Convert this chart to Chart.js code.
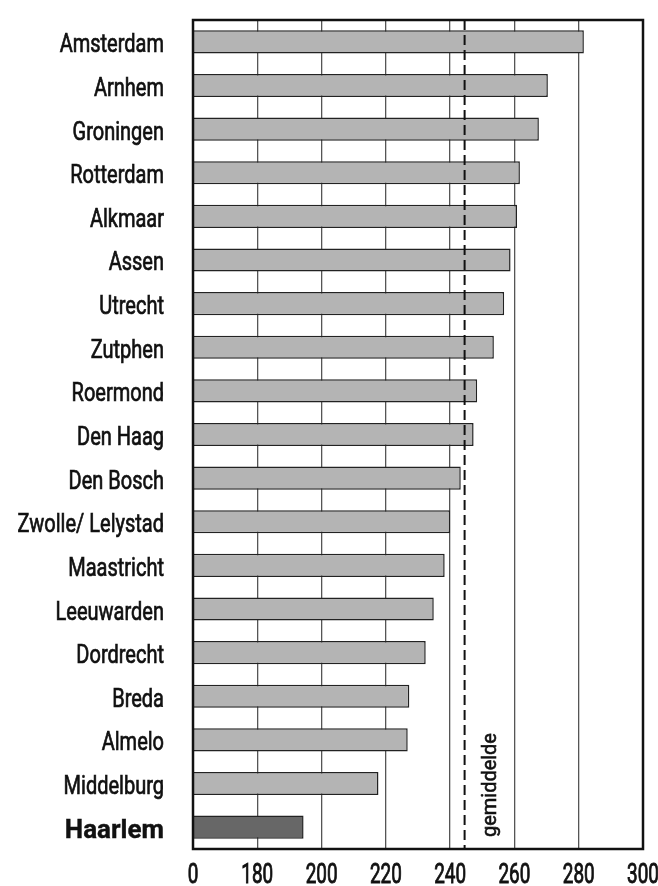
<!DOCTYPE html>
<html>
<head>
<meta charset="utf-8">
<script src="https://cdn.jsdelivr.net/npm/chart.js@4/dist/chart.umd.min.js"></script>
<style>
  html, body { margin: 0; padding: 0; background: #fff; }
  #wrap { width: 658px; height: 886px; }
</style>
</head>
<body>
<div id="wrap"><canvas id="myChart"></canvas></div>
<script>
const cities = ["Amsterdam", "Arnhem", "Groningen", "Rotterdam", "Alkmaar", "Assen", "Utrecht", "Zutphen",
  "Roermond", "Den Haag", "Den Bosch", "Zwolle/ Lelystad", "Maastricht", "Leeuwarden", "Dordrecht",
  "Breda", "Almelo", "Middelburg", "Haarlem"];
const values = [281.6, 270.4, 267.6, 261.7, 260.8, 258.8, 256.8, 253.6, 248.4, 247.3, 243.3, 240.0,
  238.3, 234.9, 232.4, 227.3, 226.8, 217.7, 194.4];
const average = 244.5;
const axisMin = 160;
const axisMax = 300;
// the axis is broken: the first tick (160) is shown as "0"
const tickLabels = {160: "0", 180: "180", 200: "200", 220: "220", 240: "240", 260: "260", 280: "280", 300: "300"};
const highlight = "Haarlem";

const font = "Roboto, 'DejaVu Sans Condensed', sans-serif";

const barColors = cities.map(c => c == highlight ? "#676767" : "#b4b4b4");

// text a bit heavier than Roboto regular
function heavyText(ctx, s, w) {
  ctx.fillText(s, 0, 0);
  ctx.lineWidth = w;
  ctx.strokeText(s, 0, 0);
}

// condensed labels, frame round the plot, dashed average line with its label
const extras = {
  id: "extras",
  afterDatasetsDraw(chart) {
    const ctx = chart.ctx;
    const a = chart.chartArea;
    const xs = chart.scales.x;
    const ys = chart.scales.y;

    ctx.save();
    ctx.fillStyle = "#111";
    ctx.strokeStyle = "#111";
    ctx.textAlign = "right";
    ctx.textBaseline = "alphabetic";
    ys.ticks.forEach((t, i) => {
      const name = cities[i];
      const y = ys.getPixelForTick(i);
      const bold = name == highlight;
      ctx.save();
      ctx.translate(a.left - 29, y + 10.5);
      ctx.scale(bold ? 1 : 0.8, 1);
      ctx.font = (bold ? "bold 26px " : "25px ") + font;
      heavyText(ctx, name, bold ? 0.4 : 0.7);
      ctx.restore();
    });

    ctx.textAlign = "center";
    xs.ticks.forEach(t => {
      const x = xs.getPixelForValue(t.value);
      ctx.save();
      ctx.translate(x, a.bottom + 34);
      ctx.scale(0.7, 1);
      ctx.font = "27px " + font;
      heavyText(ctx, tickLabels[t.value], 0.9);
      ctx.restore();
    });

    const x = xs.getPixelForValue(average);
    ctx.lineWidth = 2;
    ctx.setLineDash([10, 5]);
    ctx.beginPath();
    ctx.moveTo(x, a.top);
    ctx.lineTo(x, a.bottom);
    ctx.stroke();
    ctx.setLineDash([]);

    ctx.lineWidth = 2.5;
    ctx.strokeRect(a.left, a.top, a.right - a.left, a.bottom - a.top);

    ctx.translate(x + 31, a.bottom - 12);
    ctx.rotate(-Math.PI / 2);
    ctx.scale(0.95, 1);
    ctx.font = "21px " + font;
    ctx.textAlign = "left";
    heavyText(ctx, "gemiddelde", 0.6);
    ctx.restore();
  }
};

new Chart("myChart", {
  type: "bar",
  data: {
    labels: cities,
    datasets: [{
      data: values,
      backgroundColor: barColors,
      borderColor: "#222",
      borderWidth: 1.5,
      borderSkipped: false,
      categoryPercentage: 1,
      barPercentage: 0.53
    }]
  },
  options: {
    indexAxis: "y",
    responsive: true,
    maintainAspectRatio: false,
    animation: false,
    layout: { padding: { top: 20, right: 15, left: 0, bottom: 0 } },
    plugins: {
      legend: { display: false },
      tooltip: { enabled: false }
    },
    scales: {
      x: {
        min: axisMin,
        max: axisMax,
        grid: { color: "#555", lineWidth: 1.3, drawTicks: false },
        border: { display: false },
        ticks: { stepSize: 20, display: false },
        afterFit(scale) { scale.height = 37; }
      },
      y: {
        grid: { display: false, drawTicks: false },
        border: { display: false },
        ticks: { display: false },
        afterFit(scale) { scale.width = 193; }
      }
    }
  },
  plugins: [extras]
});
</script>
</body>
</html>
